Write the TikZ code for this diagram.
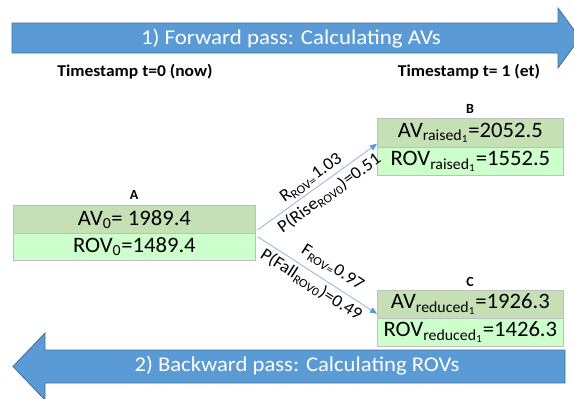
\documentclass[tikz,border=0pt]{standalone}
\usepackage{fontspec}
\setmainfont{Carlito}
\usetikzlibrary{arrows.meta,calc}
\definecolor{arrowblue}{HTML}{5B9BD5}
\definecolor{arrowedge}{HTML}{41719C}
\definecolor{rowdark}{HTML}{C5E0B4}
\definecolor{rowlight}{HTML}{CCFFCC}
\definecolor{rowedge}{HTML}{BFBFBF}
\definecolor{connblue}{HTML}{8FB4DE}
\newcommand{\hs}[2][1.05]{\scalebox{#1}[1]{#2}}
\newcommand{\fsz}[1]{\fontsize{#1}{#1}\selectfont}
\tikzset{
  bigarrow/.style={fill=arrowblue, draw=arrowedge, line width=0.8pt, line join=miter},
  passtext/.style={text=white, font=\fsz{21pt}, inner sep=0pt},
  stamp/.style={font=\fsz{16.5pt}\bfseries, inner sep=0pt},
  rowtop/.style={draw=rowedge, fill=rowdark, line width=0.8pt, inner sep=0pt, font=\fsz{22pt}, anchor=north west},
  rowbot/.style={draw=rowedge, fill=rowlight, line width=0.8pt, inner sep=0pt, font=\fsz{22pt}, anchor=north west},
  letter/.style={font=\fsz{14pt}\bfseries, inner sep=0pt},
  conn/.style={draw=connblue, line width=0.8pt, -{Triangle[length=7pt,width=6pt,fill=arrowblue,color=arrowblue]}},
  lbl/.style={font=\fsz{17.5pt}, inner sep=0pt, sloped}
}
\begin{document}
\begin{tikzpicture}[x=1pt,y=-1pt]
\path[fill=white, use as bounding box] (0,0) rectangle (574,399);
\clip (0,0) rectangle (574,399);
% big arrows
\path[bigarrow] (12,23) -- (558,23) -- (558,8) -- (580,38) -- (558,68) -- (558,53) -- (12,53) -- cycle;
\path[bigarrow] (565,350) -- (45,350) -- (45,333) -- (13,366.5) -- (45,400) -- (45,383) -- (565,383) -- cycle;
\node[passtext] (fwd) at (291,39) {\hs[1.09]{1) Forward pass: Calculating AVs}};
\node[passtext] (bwd) at (297,366) {\hs[1.08]{2) Backward pass: Calculating ROVs}};
% timestamps
\node[stamp] (t0) at (135,72) {\hs[1.06]{Timestamp t=0 (now)}};
\node[stamp] (t1) at (469,72) {\hs[1.06]{Timestamp t= 1 (et)}};
% boxes
\node[rowtop, minimum width=242pt, minimum height=28pt] (Atop) at (13,205) {\hs[1.03]{AV\textsubscript{0}= 1989.4}};
\node[rowbot, minimum width=242pt, minimum height=27pt] (Abot) at (13,233) {\hs[1.03]{ROV\textsubscript{0}=1489.4}};
\node[rowtop, minimum width=186pt, minimum height=29pt] (Btop) at (377,118) {\hs[1.03]{AV\textsubscript{raised\textsubscript{1}}=2052.5}};
\node[rowbot, minimum width=186pt, minimum height=28pt] (Bbot) at (377,147) {\hs[1.03]{ROV\textsubscript{raised\textsubscript{1}}=1552.5}};
\node[rowtop, minimum width=186pt, minimum height=28pt] (Ctop) at (377,290) {\hs[1.03]{AV\textsubscript{reduced\textsubscript{1}}=1926.3}};
\node[rowbot, minimum width=186pt, minimum height=28pt] (Cbot) at (377,318) {\hs[1.03]{ROV\textsubscript{reduced\textsubscript{1}}=1426.3}};
% letters
\node[letter] (la) at (134,195) {A};
\node[letter] (lb) at (470,109) {B};
\node[letter] (lc) at (470,282) {C};
% connectors
\draw[conn] ($(Atop.south east)+(2,-4)$) --
  node[lbl, above=3pt, pos=0.5] {\hs{R\textsubscript{ROV=}1.03}}
  node[lbl, below=4pt, pos=0.54] {\hs{P(Rise\textsubscript{ROV0})=0.51}}
  ($(Btop.south west)+(0,-4)$);
\draw[conn] ($(Atop.south east)+(2,3)$) --
  node[lbl, above=7pt, pos=0.56] {\hs{F\textsubscript{ROV=}0.97}}
  node[lbl, below=3pt, pos=0.5] {\hs{P(Fall\textsubscript{ROV0})=0.49}}
  ($(Ctop.south west)+(0,-5)$);
\end{tikzpicture}
\end{document}
